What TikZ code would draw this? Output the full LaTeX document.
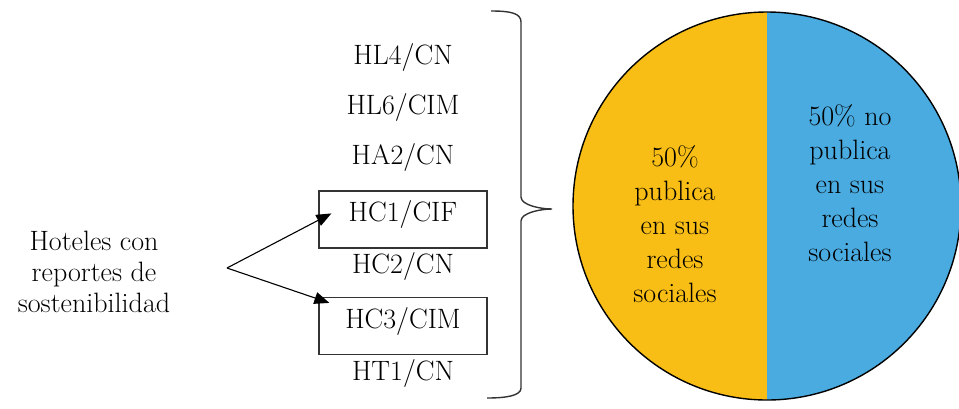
\documentclass[tikz,border=0pt]{standalone}
\usetikzlibrary{arrows.meta,calc}
\definecolor{pieyellow}{HTML}{F9BE16}
\definecolor{pieblue}{HTML}{4AABE0}
\definecolor{linegray}{HTML}{333333}
\begin{document}
\begin{tikzpicture}[x=1pt,y=-1pt,
  lbl/.style={font=\rmfamily\fontsize{28}{34}\selectfont, inner sep=0pt, anchor=center, align=center},
  leftlbl/.style={font=\rmfamily\fontsize{28}{31}\selectfont, inner sep=0pt, anchor=center, align=center},
  hbox/.style={draw=linegray, line width=1.2pt, minimum width=168pt, minimum height=57pt, inner sep=0pt},
  arr/.style={line width=1.1pt, -{Triangle[length=15pt,width=12pt]}},
  brace/.style={draw=linegray, line width=1.4pt},
]
\useasboundingbox (0,0) rectangle (959,408);

% pie
\begin{scope}
  \clip (0,0) rectangle (767,408);
  \fill[pieyellow] (767,206) circle[radius=194];
\end{scope}
\begin{scope}
  \clip (767,0) rectangle (959,408);
  \fill[pieblue] (767,206) circle[radius=194];
\end{scope}
\begin{scope}
  \clip (0,0) rectangle (959,408);
  \draw[line width=1.4pt] (767,206) circle[radius=194];
\end{scope}
\node[lbl] (pub) at (675,224) {50\%\\publica\\en sus\\redes\\sociales};
\node[lbl] (nopub) at (850,183) {50\% no\\publica\\en sus\\redes\\sociales};

% left text
\node[leftlbl] (hot) at (94,272) {Hoteles con\\reportes de\\sostenibilidad};

% column labels
\node[lbl] (hl4) at (403,57) {HL4/CN};
\node[lbl] (hl6) at (403,107) {HL6/CIM};
\node[lbl] (ha2) at (403,157) {HA2/CN};
\node[hbox] (b1) at (403,219.5) {};
\node[lbl] (hc1) at (403,214) {HC1/CIF};
\node[lbl] (hc2) at (403,266) {HC2/CN};
\node[hbox] (b2) at (403,326) {};
\node[lbl] (hc3) at (403,321) {HC3/CIM};
\node[lbl] (ht1) at (403,373) {HT1/CN};

% arrows
\coordinate (apex) at (227,268);
\coordinate (t1) at ($(b1.north west)+(13,23)$);
\coordinate (t2) at ($(b2.north west)+(11,6)$);
\draw[arr] (apex) -- (t1);
\draw[arr] (apex) -- (t2);

% brace
\draw[brace] (491,11) .. controls (510,11) and (521,13) .. (521,22)
  -- (521,197) .. controls (521,205) and (540,209) .. (552,209)
  .. controls (540,209) and (521,213) .. (521,221)
  -- (521,388) .. controls (521,396) and (505,398) .. (487,398);
\end{tikzpicture}
\end{document}
